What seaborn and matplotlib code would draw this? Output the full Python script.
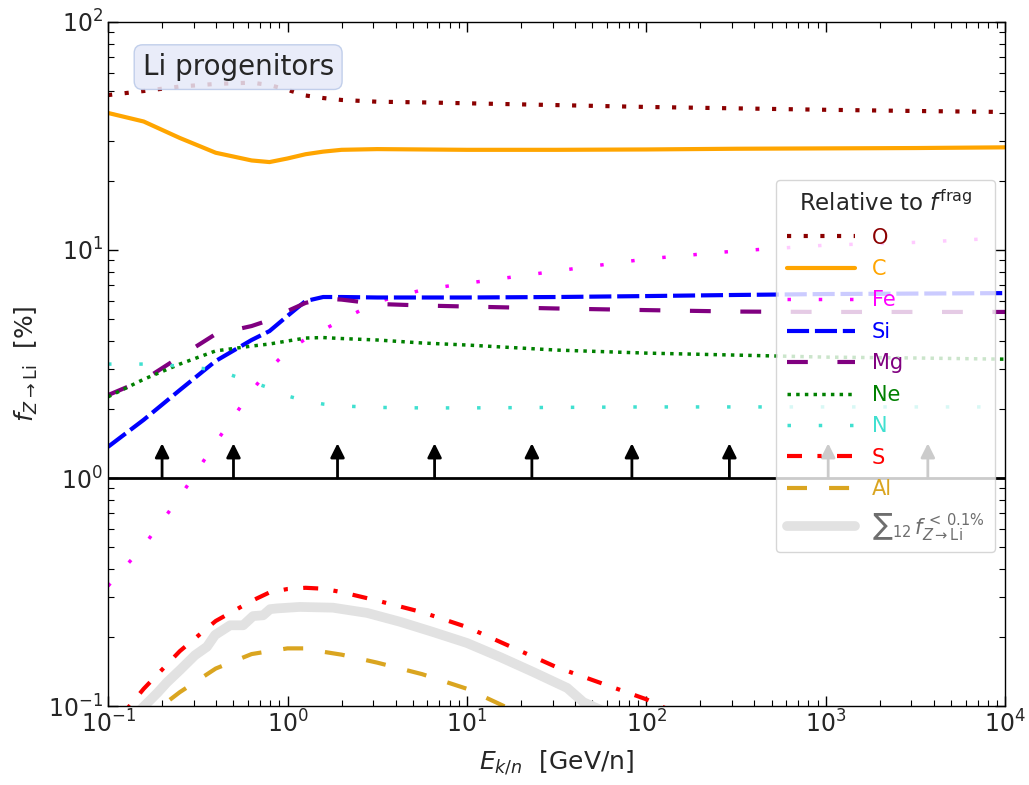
import matplotlib
matplotlib.use("Agg")
import matplotlib.pyplot as plt
import seaborn as sns

sns.set_style("ticks", {"xtick.direction": "in", "ytick.direction": "in"})
plt.rcParams["font.family"] = ["DejaVu Sans"]
plt.rcParams["mathtext.fontset"] = "dejavusans"

# Kinetic energy per nucleon [GeV/n]
energy = [0.1, 0.158, 0.251, 0.398, 0.631, 0.794, 1.0, 1.26, 1.58, 2.0, 3.16,
          5.62, 10, 31.6, 100, 316, 1000, 3162, 10000]

# Fractional contribution of each progenitor to Li production [%]
frac_O = [47.8, 49.8, 52.1, 53.5, 54.2, 52.9, 50.4, 47.6, 46.4, 45.5, 44.7,
          44.4, 44.0, 43.2, 42.4, 41.8, 41.2, 40.7, 40.3]
frac_C = [39.9, 36.6, 31.0, 26.7, 24.7, 24.3, 25.2, 26.3, 27.0, 27.5, 27.7,
          27.6, 27.5, 27.5, 27.6, 27.8, 27.9, 28.0, 28.2]
frac_Fe = [0.336, 0.504, 0.825, 1.43, 2.41, 3.01, 3.61, 4.07, 4.46, 4.93, 5.92,
           6.68, 7.15, 8.09, 9.14, 9.90, 10.5, 10.8, 11.3]
frac_Si = [1.37, 1.80, 2.43, 3.26, 4.03, 4.41, 5.14, 5.97, 6.22, 6.22, 6.19,
           6.19, 6.19, 6.22, 6.28, 6.35, 6.41, 6.44, 6.47]
frac_Mg = [2.31, 2.69, 3.40, 4.28, 4.64, 4.93, 5.40, 5.86, 6.12, 6.06, 5.80,
           5.71, 5.65, 5.54, 5.45, 5.37, 5.35, 5.35, 5.35]
frac_Ne = [2.27, 2.71, 3.16, 3.61, 3.79, 3.87, 3.99, 4.11, 4.13, 4.09, 4.03,
           3.91, 3.83, 3.64, 3.53, 3.46, 3.39, 3.36, 3.32]
frac_N = [3.16, 3.16, 3.10, 2.98, 2.64, 2.48, 2.29, 2.18, 2.11, 2.07, 2.04,
          2.03, 2.03, 2.04, 2.05, 2.05, 2.05, 2.05, 2.05]
frac_S = [0.077, 0.119, 0.174, 0.236, 0.289, 0.315, 0.326, 0.330, 0.327, 0.316,
          0.290, 0.258, 0.222, 0.148, 0.107, 0.070, 0.045, 0.029, 0.019]
frac_Al = [0.060, 0.087, 0.115, 0.146, 0.169, 0.174, 0.179, 0.179, 0.173, 0.168,
           0.155, 0.138, 0.119, 0.078, 0.050, 0.032, 0.020, 0.013, 0.008]

# Sum of the 12 minor progenitors (finer energy sampling)
energy_sum12 = [0.1, 0.157, 0.188, 0.213, 0.252, 0.305, 0.356, 0.395, 0.479,
                0.566, 0.643, 0.731, 0.80, 0.875, 1.17, 1.79, 2.78, 4.25, 6.49,
                10, 15.3, 23.4, 36.2, 44.5, 100, 1000, 10000]
frac_sum12 = [0.070, 0.099, 0.114, 0.127, 0.144, 0.167, 0.182, 0.205, 0.226,
              0.226, 0.248, 0.250, 0.266, 0.268, 0.272, 0.270, 0.256, 0.234,
              0.211, 0.189, 0.164, 0.141, 0.120, 0.104, 0.078, 0.030, 0.012]

# Energies marked with arrows on the 1% reference line
arrow_energy = [0.2, 0.5, 1.9, 6.6, 23, 83, 290, 1030, 3700]

SUM_COLOR = "#e2e2e2"
series = [
    ("O", energy, frac_O, "#8b0000", 3.0, (0, (1, 3))),
    ("C", energy, frac_C, "orange", 3.0, "-"),
    ("Fe", energy, frac_Fe, "magenta", 2.5, (0, (1, 8))),
    ("Si", energy, frac_Si, "blue", 3.0, (0, (5.3, 1.4))),
    ("Mg", energy, frac_Mg, "purple", 3.0, (0, (5, 7.1))),
    ("Ne", energy, frac_Ne, "green", 2.5, (0, (1, 1.5))),
    ("N", energy, frac_N, "turquoise", 2.5, (0, (1, 8))),
    ("S", energy, frac_S, "red", 3.0, (0, (3.6, 3.7, 1, 3.7))),
    ("Al", energy, frac_Al, "goldenrod", 3.0, (0, (4.8, 5.3))),
    (r"${\sum}_{12}\, f^{\,<\,0.1\%}_{Z\to{\rm Li}}$", energy_sum12, frac_sum12,
     SUM_COLOR, 7.0, "-"),
]

fig = plt.figure(figsize=(10.29, 7.85), dpi=100)
ax = fig.add_axes([0.105, 0.1006, 0.872, 0.8714])

handles, labels, label_colors = [], [], []
for name, xs, vals, color, lw, ls in series:
    sns.lineplot(x=xs, y=vals, ax=ax, color=color, linewidth=lw,
                 linestyle=ls, legend=False)
    handles.append(ax.lines[-1])
    labels.append(name)
    label_colors.append(color if color != SUM_COLOR else "#6e6e6e")

ax.set_xscale("log")
ax.set_yscale("log")
ax.set_xlim(0.1, 1e4)
ax.set_ylim(0.1, 100)

# Reference line at 1% and arrows pointing upwards
ax.axhline(1.0, color="black", lw=2, zorder=3)
for e in arrow_energy:
    ax.annotate("", xy=(e, 1.42), xytext=(e, 1.0),
                arrowprops=dict(arrowstyle="-|>", color="black", lw=2,
                                mutation_scale=21, shrinkA=0, shrinkB=0),
                zorder=3)

ax.text(0.145, 0.934, "Li progenitors", transform=ax.transAxes,
        ha="center", va="center", fontsize=20, zorder=5,
        bbox=dict(boxstyle="round,pad=0.3", facecolor="#e6e9f8",
                  edgecolor="#b8c8e8", alpha=0.85))

leg = ax.legend(handles, labels, title=r"Relative to $f^{\rm frag}$",
                loc="center right", bbox_to_anchor=(1.0, 0.497),
                fontsize=15, title_fontsize=16.5, handlelength=3.3,
                handletextpad=0.8, labelspacing=0.55, borderpad=0.5,
                labelcolor=label_colors, framealpha=0.8)
leg.set_zorder(10)

ax.set_xlabel(r"$E_{k/n}$  [GeV/n]", fontsize=18, labelpad=8)
ax.set_ylabel(r"$f_{Z\to{\rm Li}}$  [%]", fontsize=18, labelpad=6)
ax.tick_params(which="both", direction="in", top=True, right=True,
               labelsize=17, color="black")
ax.tick_params(which="major", length=7, width=1)
ax.tick_params(which="minor", length=4, width=0.8)
for sp in ax.spines.values():
    sp.set_color("black")
    sp.set_linewidth(1.0)

fig.savefig("out.png", dpi=100)
